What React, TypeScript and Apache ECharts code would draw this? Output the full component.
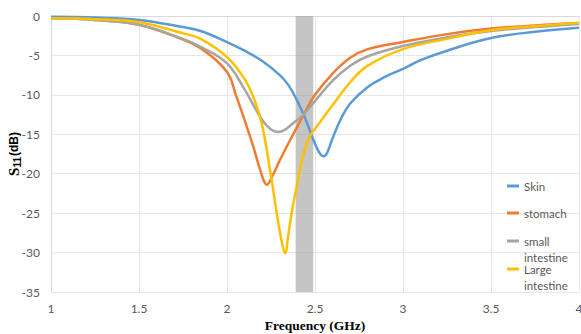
import React, { useEffect, useRef } from "react";
import * as echarts from "echarts";

const skinX = [1.0, 1.25, 1.5, 1.75, 1.85, 2.0, 2.1, 2.2, 2.3, 2.35, 2.4, 2.45, 2.5, 2.53, 2.55, 2.57, 2.6, 2.65, 2.7, 2.8, 2.9, 3.0, 3.1, 3.25, 3.5, 3.75, 4.0];
const skinY = [-0.1, -0.2, -0.5, -1.4, -1.9, -3.3, -4.4, -5.7, -7.5, -8.8, -10.8, -13.3, -16.2, -17.5, -17.8, -17.3, -15.5, -12.9, -11.1, -9.0, -7.7, -6.7, -5.6, -4.4, -2.8, -2.0, -1.5];

const stomachX = [1.0, 1.25, 1.5, 1.75, 1.85, 2.0, 2.05, 2.1, 2.15, 2.19, 2.227, 2.26, 2.3, 2.35, 2.4, 2.45, 2.5, 2.6, 2.7, 2.8, 3.0, 3.25, 3.5, 3.75, 4.0];
const stomachY = [-0.3, -0.5, -1.1, -3.0, -4.1, -7.1, -10.0, -13.2, -16.6, -19.6, -21.4, -20.2, -18.3, -16.1, -14.0, -11.9, -10.0, -7.3, -5.3, -4.2, -3.3, -2.3, -1.6, -1.2, -0.9];

const smallX = [1.0, 1.25, 1.5, 1.75, 1.85, 2.0, 2.1, 2.15, 2.2, 2.25, 2.29, 2.33, 2.38, 2.43, 2.5, 2.6, 2.7, 2.8, 3.0, 3.25, 3.5, 3.75, 4.0];
const smallY = [-0.3, -0.5, -1.1, -2.9, -3.9, -6.0, -9.3, -11.3, -13.2, -14.4, -14.7, -14.4, -13.5, -12.6, -10.8, -8.2, -6.3, -5.1, -3.8, -2.7, -1.9, -1.4, -1.0];

const largeX = [1.0, 1.25, 1.5, 1.75, 1.85, 2.0, 2.1, 2.15, 2.2, 2.25, 2.28, 2.31, 2.33, 2.35, 2.37, 2.4, 2.43, 2.47, 2.53, 2.6, 2.7, 2.8, 3.0, 3.25, 3.5, 3.75, 4.0];
const largeY = [-0.3, -0.4, -0.8, -2.2, -2.9, -5.2, -8.0, -10.3, -13.9, -20.3, -24.6, -28.5, -30.1, -27.5, -24.6, -21.2, -17.9, -15.3, -13.4, -11.3, -8.4, -6.3, -4.2, -2.9, -1.8, -1.3, -0.9];

const bandRange = [2.39, 2.49];

const seriesNames = ["Skin", "stomach", "small intestine", "Large intestine"];
const seriesColors = ["#5B9BD5", "#ED7D31", "#A5A5A5", "#FFC000"];
const legendTops = [178, 205, 217, 245];

const pairs = (xs: number[], ys: number[]) => xs.map((x, i) => [x, ys[i]]);

export default function App() {
  const ref = useRef<HTMLDivElement>(null);
  useEffect(() => {
    document.body.style.margin = "0";
    const chart = echarts.init(ref.current!, null, { renderer: "svg" });
    const datasets = [
      pairs(skinX, skinY),
      pairs(stomachX, stomachY),
      pairs(smallX, smallY),
      pairs(largeX, largeY),
    ];
    const lineSeries = datasets.map((d, i) => ({
      name: seriesNames[i],
      type: "line",
      data: d,
      smooth: 0.4,
      showSymbol: false,
      symbol: "none",
      lineStyle: { color: seriesColors[i], width: 2.5 },
      itemStyle: { color: seriesColors[i] },
      z: 2,
    }));
    const legends = seriesNames.map((n, i) => ({
      data: [n],
      orient: "vertical",
      left: 507,
      top: legendTops[i],
      padding: 0,
      itemWidth: 12,
      itemHeight: 3,
      icon: "rect",
      formatter: (s: string) => (s.includes(" ") ? "\n" + s.replace(" ", "\n") : s),
      textStyle: {
        color: "#595959",
        fontSize: 11.5,
        fontFamily: "Lato",
        lineHeight: 16,
      },
    }));
    chart.setOption({
      animation: false,
      grid: { left: 51, right: 2, top: 16, bottom: 42, outerBoundsMode: "none", containLabel: false },
      legend: legends,
      xAxis: {
        type: "value",
        min: 1,
        max: 4,
        interval: 0.5,
        name: "Frequency (GHz)",
        nameLocation: "middle",
        nameGap: 26,
        nameTextStyle: {
          fontFamily: "Liberation Serif",
          fontWeight: "bold",
          fontSize: 13.5,
          color: "#000",
        },
        axisLine: { show: true, lineStyle: { color: "#d9d9d9" } },
        axisTick: { show: false },
        axisLabel: { color: "#595959", fontSize: 12, fontFamily: "Lato", margin: 10 },
        splitLine: { show: true, lineStyle: { color: "#e6e6e6" } },
      },
      yAxis: {
        type: "value",
        min: -35,
        max: 0,
        interval: 5,
        name: "{s|S}{sub|11}{b|(dB)}",
        nameLocation: "middle",
        nameGap: 29,
        nameMoveOverlap: false,
        nameRotate: 90,
        nameTextStyle: {
          rich: {
            s: { fontFamily: "Liberation Serif", fontWeight: "bold", fontSize: 15, color: "#000" },
            sub: { fontFamily: "Liberation Sans", fontWeight: "bold", fontSize: 10, color: "#000", verticalAlign: "bottom", padding: [6, 1, 0, 0] },
            b: { fontFamily: "Liberation Sans", fontWeight: "bold", fontSize: 12, color: "#000" },
          },
        },
        axisLine: { show: true, lineStyle: { color: "#d9d9d9" } },
        axisTick: { show: false },
        axisLabel: { color: "#595959", fontSize: 12, fontFamily: "Lato", margin: 11 },
        splitLine: { show: true, lineStyle: { color: "#e6e6e6" } },
      },
      series: [
        ...lineSeries,
        {
          name: "band",
          type: "line",
          data: [],
          z: 5,
          markArea: {
            silent: true,
            itemStyle: { color: "rgba(150,150,150,0.55)" },
            data: [[{ xAxis: bandRange[0] }, { xAxis: bandRange[1] }]],
          },
        },
      ],
    });
    return () => chart.dispose();
  }, []);
  return <div ref={ref} style={{ width: 581, height: 334 }} />;
}
